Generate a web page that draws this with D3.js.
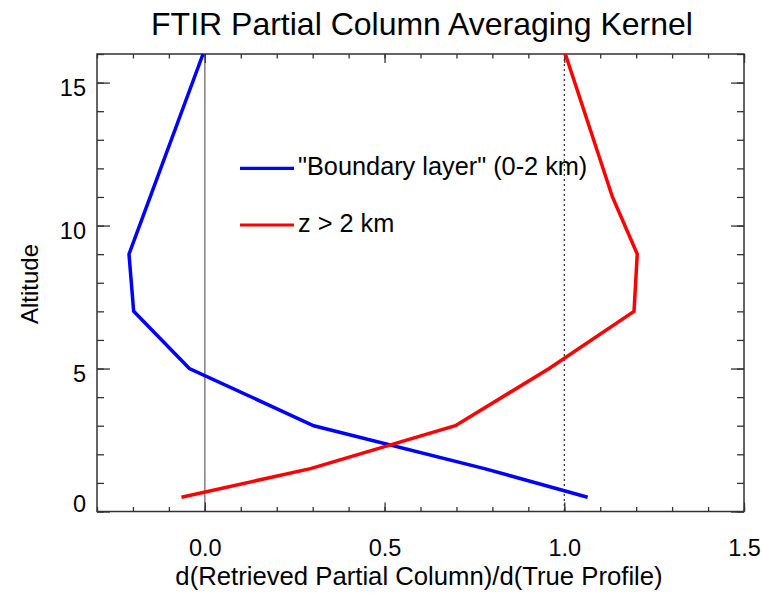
<!DOCTYPE html>
<html><head><meta charset="utf-8">
<script src="https://cdn.jsdelivr.net/npm/d3@7"></script>
<style>
html,body{margin:0;padding:0;background:#fff;}
text{font-family:"Liberation Sans",Arial,Helvetica,sans-serif;fill:#000;}
</style></head>
<body>
<script>
const altitudes = [0.5, 1.5, 3, 5, 7, 9, 11, 16];
const boundaryLayer = [1.065, 0.778, 0.303, -0.043, -0.198, -0.211, -0.152, -0.005];
const aboveTwoKm = [-0.065, 0.294, 0.697, 0.958, 1.194, 1.203, 1.134, 1.003];
const xMajorTicks = [0, 0.5, 1.0, 1.5];
const yMajorTicks = [0, 5, 10, 15];
const seriesNames = ['"Boundary layer" (0-2 km)', 'z > 2 km'];
const seriesColors = ['#0000ff', '#ff0000'];

const W = 763, H = 600;
const svg = d3.select('body').append('svg').attr('width', W).attr('height', H);
const x = d3.scaleLinear().domain([-0.3, 1.5]).range([97, 744]);
const y = d3.scaleLinear().domain([0, 16]).range([511.5, 54]);

const xMinor = d3.range(-3, 16).map(d => d / 10);
const yMinor = d3.range(0, 17);
const axisColor = '#333';

// vertical reference lines
svg.append('line').attr('x1', x(0)).attr('x2', x(0)).attr('y1', y(16)).attr('y2', y(0))
  .attr('stroke', '#808080').attr('stroke-width', 1.5);
svg.append('line').attr('x1', x(1)).attr('x2', x(1)).attr('y1', y(16)).attr('y2', y(0))
  .attr('stroke', '#000').attr('stroke-width', 1).attr('stroke-dasharray', '2,3');

// axes (ticks drawn inward)
function styleAxis(g) {
  g.select('.domain').remove();
  g.selectAll('line').attr('stroke', axisColor).attr('stroke-width', 1.3);
}
svg.append('g').attr('transform', `translate(0,${y(0)})`)
  .call(d3.axisBottom(x).tickValues(xMinor).tickSize(-4.5).tickFormat('')).call(styleAxis);
svg.append('g').attr('transform', `translate(0,${y(16)})`)
  .call(d3.axisTop(x).tickValues(xMinor).tickSize(-4.5).tickFormat('')).call(styleAxis);
const xb = svg.append('g').attr('transform', `translate(0,${y(0)})`)
  .call(d3.axisBottom(x).tickValues(xMajorTicks).tickSize(-9).tickPadding(0).tickFormat(d3.format('.1f'))).call(styleAxis);
xb.selectAll('text').attr('y', 44.5).attr('dy', null).attr('font-size', 23.5).attr('fill', '#000');
svg.append('g').attr('transform', `translate(0,${y(16)})`)
  .call(d3.axisTop(x).tickValues(xMajorTicks).tickSize(-9).tickFormat('')).call(styleAxis);

svg.append('g').attr('transform', `translate(${x(-0.3)},0)`)
  .call(d3.axisLeft(y).tickValues(yMinor).tickSize(-7).tickFormat('')).call(styleAxis);
svg.append('g').attr('transform', `translate(${x(1.5)},0)`)
  .call(d3.axisRight(y).tickValues(yMinor).tickSize(-7).tickFormat('')).call(styleAxis);
const yl = svg.append('g').attr('transform', `translate(${x(-0.3)},0)`)
  .call(d3.axisLeft(y).tickValues(yMajorTicks).tickSize(-13).tickPadding(11).tickFormat(d3.format('d'))).call(styleAxis);
yl.selectAll('text').attr('font-size', 23.5).attr('fill', '#000').attr('x', -11)
  .attr('dy', '0.35em').attr('y', d => d === 0 ? -8.5 : 4.5);
svg.append('g').attr('transform', `translate(${x(1.5)},0)`)
  .call(d3.axisRight(y).tickValues(yMajorTicks).tickSize(-13).tickFormat('')).call(styleAxis);

// frame
svg.append('rect').attr('x', x(-0.3)).attr('y', y(16)).attr('width', x(1.5) - x(-0.3)).attr('height', y(0) - y(16))
  .attr('fill', 'none').attr('stroke', axisColor).attr('stroke-width', 1.5);

// data lines
const line = d3.line().x(d => x(d[0])).y(d => y(d[1]));
[boundaryLayer, aboveTwoKm].forEach((vals, i) => {
  svg.append('path').datum(vals.map((v, j) => [v, altitudes[j]]))
    .attr('d', line).attr('fill', 'none').attr('stroke', seriesColors[i])
    .attr('stroke-width', 3.5).attr('stroke-linejoin', 'miter');
});

// legend
const legY = [168.3, 225];
seriesNames.forEach((name, i) => {
  svg.append('line').attr('x1', 240).attr('x2', 294).attr('y1', legY[i]).attr('y2', legY[i])
    .attr('stroke', seriesColors[i]).attr('stroke-width', 3.2);
  svg.append('text').attr('x', 298).attr('y', legY[i] + 6.5).attr('font-size', 25.3).text(name);
});

// titles
svg.append('text').attr('x', 422).attr('y', 35).attr('text-anchor', 'middle').attr('font-size', 32)
  .text('FTIR Partial Column Averaging Kernel');
svg.append('text').attr('x', 419).attr('y', 585).attr('text-anchor', 'middle').attr('font-size', 25.7)
  .text('d(Retrieved Partial Column)/d(True Profile)');
svg.append('text').attr('transform', 'translate(38,284) rotate(-90)').attr('text-anchor', 'middle').attr('font-size', 24)
  .text('Altitude');
</script>
</body></html>
